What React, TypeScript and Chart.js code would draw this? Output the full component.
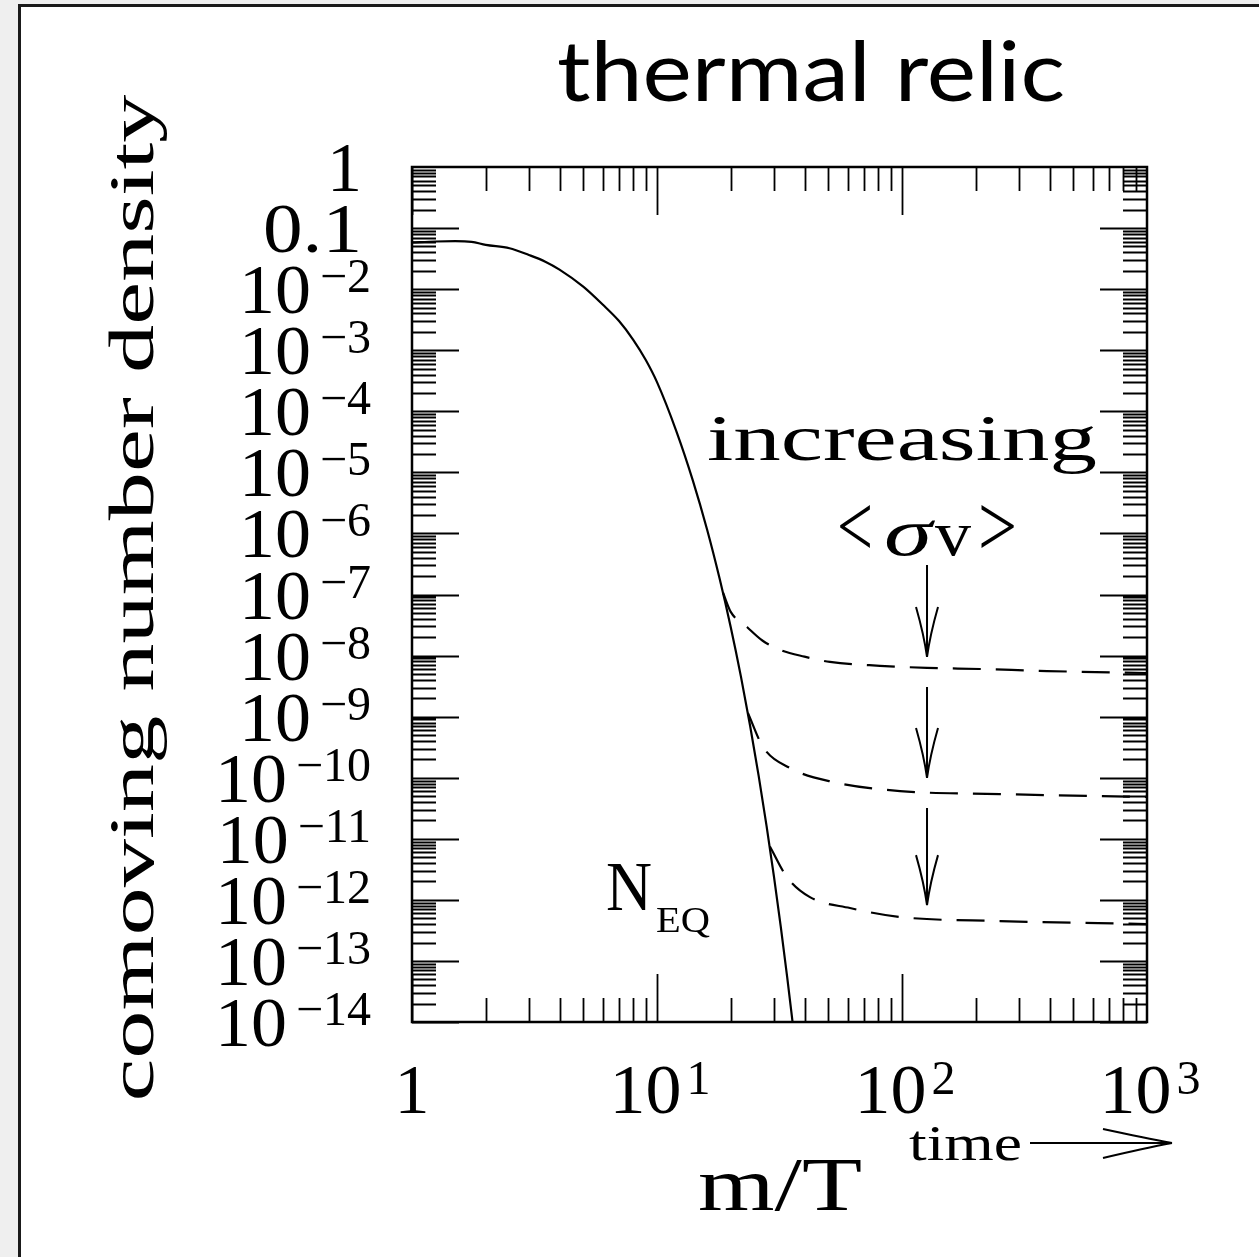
import React, { useEffect, useRef } from "react";
import { Chart, registerables } from "chart.js";

Chart.register(...registerables);

// ---- data ----
const EQ_X = [1, 1.25, 1.5, 1.75, 2, 2.5, 3, 3.5, 4, 5, 6, 7, 8, 9, 10, 12, 14, 16, 18, 20, 22, 24, 26, 28, 30, 32, 34, 36];
const EQ_Y = [0.0581, 0.0603, 0.061, 0.0596, 0.053, 0.0468, 0.0363, 0.0282, 0.0209, 0.011, 5.6e-3, 3.0e-3, 1.48e-3, 6.9e-4, 3.0e-4, 4.7e-5, 7.4e-6, 1.17e-6, 1.84e-7, 2.92e-8, 4.57e-9, 7.03e-10, 1.07e-10, 1.63e-11, 2.44e-12, 3.64e-13, 5.38e-14, 7.92e-15];

const D1_X = [18.6, 20, 23.3, 27, 31.8, 40, 50.8, 81.3, 126.5, 208, 391, 1000];
const D1_Y = [1.07e-7, 5.2e-8, 2.94e-8, 1.75e-8, 1.24e-8, 9.6e-9, 7.87e-9, 6.8e-9, 6.3e-9, 6.03e-9, 5.58e-9, 5.18e-9];

const D2_X = [23.5, 27.1, 34.9, 52.3, 98.2, 251, 1000];
const D2_Y = [1.15e-9, 3.18e-10, 1.44e-10, 8.5e-11, 6.05e-11, 5.4e-11, 4.83e-11];

const D3_X = [28.9, 33.9, 42.1, 61.3, 98.2, 251, 1000];
const D3_Y = [7.5e-12, 2.37e-12, 1.11e-12, 7.35e-13, 5.24e-13, 4.5e-13, 4.02e-13];

const ARROW_X = [126.5, 126.5, 126.5];
const ARROW_FROM = [3.04e-7, 3.05e-9, 3.19e-11];
const ARROW_TO = [9.5e-9, 9.9e-11, 8.2e-13];

const X_MIN = 1;
const X_MAX = 1000;
const Y_MIN = 1e-14;
const Y_MAX = 1;

const X_DECADES = [1, 10, 100];
const Y_EXPONENTS = [0, -1, -2, -3, -4, -5, -6, -7, -8, -9, -10, -11, -12, -13, -14];
const MINOR_MULT = [1, 2, 3, 4, 5, 6, 7, 8, 9];

const X_TICK_VALUES = [1, 10, 100, 1000];
const X_TICK_BASE = ["1", "10", "10", "10"];
const X_TICK_SUP = ["", "1", "2", "3"];

const Y_TICK_BASE = ["1", "0.1", "10", "10", "10", "10", "10", "10", "10", "10", "10", "10", "10", "10", "10"];
const Y_TICK_SUP = ["", "", "−2", "−3", "−4", "−5", "−6", "−7", "−8", "−9", "−10", "−11", "−12", "−13", "−14"];

const TITLE = "thermal relic";
const Y_TITLE = "comoving number density";
const X_TITLE = "m/T";

const SERIF = "'Liberation Serif', 'DejaVu Serif', serif";

function pts(xs: number[], ys: number[]) {
  return xs.map((x, i) => ({ x, y: ys[i] }));
}

function txt(
  ctx: CanvasRenderingContext2D,
  s: string,
  x: number,
  y: number,
  font: string,
  align: "left" | "center" | "right" = "left",
  width?: number
) {
  ctx.save();
  ctx.font = font;
  ctx.textAlign = "left";
  ctx.textBaseline = "alphabetic";
  ctx.fillStyle = "#000";
  const w = ctx.measureText(s).width;
  const sx = width ? width / w : 1;
  const tw = w * sx;
  const left = align === "left" ? x : align === "center" ? x - tw / 2 : x - tw;
  ctx.translate(left, y);
  ctx.scale(sx, 1);
  ctx.fillText(s, 0, 0);
  ctx.restore();
}

function measure(ctx: CanvasRenderingContext2D, s: string, font: string) {
  ctx.save();
  ctx.font = font;
  const w = ctx.measureText(s).width;
  ctx.restore();
  return w;
}

const decorPlugin = {
  id: "decor",
  afterDraw(chart: any) {
    const ctx: CanvasRenderingContext2D = chart.ctx;
    const a = chart.chartArea;
    const xs = chart.scales.x;
    const ys = chart.scales.y;
    ctx.save();
    ctx.strokeStyle = "#000";
    ctx.lineCap = "butt";

    // ticks
    ctx.lineWidth = 1.8;
    ctx.beginPath();
    for (const d of X_DECADES) {
      for (const m of MINOR_MULT) {
        const v = d * m;
        if (v > X_MAX) continue;
        const px = Math.round(xs.getPixelForValue(v)) + 0.5;
        const len = m === 1 ? 48 : 24;
        ctx.moveTo(px, a.bottom);
        ctx.lineTo(px, a.bottom - len);
        ctx.moveTo(px, a.top);
        ctx.lineTo(px, a.top + len);
      }
    }
    for (const e of Y_EXPONENTS) {
      if (e === 0) continue;
      for (const m of MINOR_MULT) {
        const v = m * Math.pow(10, e);
        if (v > Y_MAX) continue;
        const py = Math.round(ys.getPixelForValue(v)) + 0.5;
        const len = m === 1 ? 47 : 24;
        ctx.moveTo(a.left, py);
        ctx.lineTo(a.left + len, py);
        ctx.moveTo(a.right, py);
        ctx.lineTo(a.right - len, py);
      }
    }
    ctx.stroke();

    // frame
    ctx.lineWidth = 2.5;
    ctx.strokeRect(a.left, a.top, a.right - a.left, a.bottom - a.top);

    // y tick labels
    const mainF = `70px ${SERIF}`;
    const supF = `48px ${SERIF}`;
    Y_EXPONENTS.forEach((e, i) => {
      const py = ys.getPixelForValue(Math.pow(10, e));
      if (!Y_TICK_SUP[i]) {
        const w = Y_TICK_BASE[i].length > 1 ? 99 : undefined;
        txt(ctx, Y_TICK_BASE[i], 362, py + 24, mainF, "right", w);
      } else {
        const sw = measure(ctx, Y_TICK_SUP[i], supF);
        const supLeft = 371 - sw;
        txt(ctx, Y_TICK_SUP[i], supLeft, py + 3, supF, "left");
        txt(ctx, Y_TICK_BASE[i], supLeft - 9, py + 24, mainF, "right", 72);
      }
    });

    // x tick labels
    X_TICK_VALUES.forEach((v, i) => {
      const px = xs.getPixelForValue(v);
      if (!X_TICK_SUP[i]) {
        txt(ctx, X_TICK_BASE[i], px, 1113, mainF, "center");
      } else {
        const bw = 72;
        const sw = measure(ctx, X_TICK_SUP[i], supF);
        const total = bw + 5 + sw;
        const left = px + 3 - total / 2;
        txt(ctx, X_TICK_BASE[i], left, 1113, mainF, "left", bw);
        txt(ctx, X_TICK_SUP[i], left + bw + 5, 1094, supF, "left");
      }
    });

    // arrows
    ctx.lineWidth = 2;
    ARROW_X.forEach((xv, i) => {
      const px = xs.getPixelForValue(xv);
      const p0 = ys.getPixelForValue(ARROW_FROM[i]);
      const p1 = ys.getPixelForValue(ARROW_TO[i]);
      ctx.beginPath();
      ctx.moveTo(px, p0);
      ctx.lineTo(px, p1);
      ctx.moveTo(px - 11, p1 - 50);
      ctx.quadraticCurveTo(px - 3, p1 - 22, px, p1);
      ctx.moveTo(px + 11, p1 - 50);
      ctx.quadraticCurveTo(px + 3, p1 - 22, px, p1);
      ctx.stroke();
    });

    // annotations
    txt(ctx, "increasing", 707, 460, `66px ${SERIF}`, "left", 390);
    txt(ctx, "<", 837, 556, `88px ${SERIF}`, "left", 36);
    txt(ctx, "σ", 884, 555, `italic 68px ${SERIF}`, "left", 48);
    txt(ctx, "v", 935, 555, `64px ${SERIF}`, "left", 36);
    txt(ctx, ">", 978, 556, `88px ${SERIF}`, "left", 39);
    txt(ctx, "N", 606, 910, `70px ${SERIF}`, "left", 46);
    txt(ctx, "EQ", 656, 932, `36px ${SERIF}`, "left", 54);

    // x title + time arrow
    txt(ctx, X_TITLE, 698, 1210, `76px ${SERIF}`, "left", 164);
    txt(ctx, "time", 909, 1160, `50px ${SERIF}`, "left", 113);
    ctx.lineWidth = 2;
    ctx.beginPath();
    ctx.moveTo(1030, 1143);
    ctx.lineTo(1172, 1143);
    ctx.moveTo(1103, 1129);
    ctx.quadraticCurveTo(1145, 1138, 1172, 1143);
    ctx.moveTo(1103, 1158);
    ctx.quadraticCurveTo(1145, 1148, 1172, 1143);
    ctx.stroke();

    // y title (rotated)
    ctx.save();
    ctx.translate(153, 598);
    ctx.rotate(-Math.PI / 2);
    txt(ctx, Y_TITLE, 0, 0, `64px ${SERIF}`, "center", 1007);
    ctx.restore();

    // main title
    txt(ctx, TITLE, 811, 101, `84px Lato, 'Open Sans', sans-serif`, "center", 508);

    ctx.restore();
  },
};

export default function App() {
  const ref = useRef<HTMLCanvasElement | null>(null);

  useEffect(() => {
    if (!ref.current) return;
    const line = (data: any, dash: number[] = []) => ({
      data,
      borderColor: "#000",
      borderWidth: 2.2,
      borderDash: dash,
      pointRadius: 0,
      fill: false,
      cubicInterpolationMode: "monotone" as const,
    });
    const chart = new Chart(ref.current, {
      type: "line",
      data: {
        datasets: [
          line(pts(EQ_X, EQ_Y)),
          line(pts(D1_X, D1_Y), [28, 15]),
          line(pts(D2_X, D2_Y), [28, 15]),
          line(pts(D3_X, D3_Y), [28, 15]),
        ],
      },
      options: {
        animation: false,
        responsive: false,
        devicePixelRatio: 1,
        layout: { padding: { left: 412, top: 167, right: 112, bottom: 235 } },
        plugins: { legend: { display: false }, tooltip: { enabled: false } },
        scales: {
          x: { type: "logarithmic", min: X_MIN, max: X_MAX, display: false },
          y: { type: "logarithmic", min: Y_MIN, max: Y_MAX, display: false },
        },
      },
      plugins: [decorPlugin],
    });
    return () => chart.destroy();
  }, []);

  return (
    <div
      style={{
        position: "absolute",
        left: 0,
        top: 0,
        width: 1259,
        height: 1257,
        background: "#efefef",
        overflow: "hidden",
      }}
    >
      <div
        style={{
          position: "absolute",
          left: 18,
          top: 4,
          width: 1300,
          height: 1300,
          background: "#fff",
          border: "3px solid #1a1a1a",
        }}
      />
      <canvas
        ref={ref}
        width={1259}
        height={1257}
        style={{ position: "absolute", left: 0, top: 0 }}
      />
    </div>
  );
}
